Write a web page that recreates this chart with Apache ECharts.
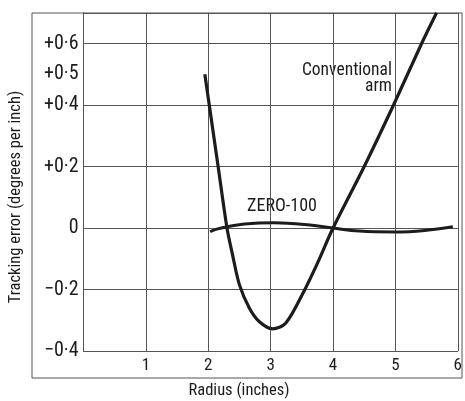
<!DOCTYPE html>
<html><head><meta charset="utf-8">
<script src="https://cdn.jsdelivr.net/npm/echarts@6/dist/echarts.min.js"></script>
<style>html,body{margin:0;padding:0;background:#fff}#c{width:465px;height:401px}</style>
</head><body><div id="c"></div>
<script>
// Data
const conventionalArm = [[1.945,0.50],[2.016,0.40],[2.158,0.20],[2.30,0.0],[2.39,-0.088],[2.50,-0.185],[2.66,-0.261],[2.82,-0.305],[3.03,-0.328],[3.24,-0.31],[3.53,-0.207],[3.76,-0.11],[4.0,0.0],[4.5,0.2],[4.97,0.4],[5.42,0.6],[5.66,0.7]];
const zero100 = [[2.03,-0.012],[2.15,-0.003],[2.31,0.004],[2.58,0.013],[3.05,0.017],[3.63,0.010],[4.0,0.0],[4.42,-0.010],[5.0,-0.013],[5.47,-0.008],[5.92,0.004]];
const yTickLabels = {'6':'+0·6','5':'+0·5','4':'+0·4','2':'+0·2','0':'0','-2':'−0·2','-4':'−0·4'};
const xTickLabels = ['1','2','3','4','5','6'];
const FONT = '"Liberation Sans Narrow","Roboto Condensed","Liberation Sans",sans-serif';
const ink = '#1c1c1c', gridc = '#555';

const chart = echarts.init(document.getElementById('c'), null, {renderer:'canvas'});
chart.setOption({
  animation:false,
  backgroundColor:'#fff',
  grid:{left:83.5,top:12.75,right:2,bottom:50,containLabel:false},
  xAxis:{type:'value',min:0,max:6,interval:1,
    axisLine:{show:true,onZero:false,lineStyle:{color:gridc,width:1}},
    axisTick:{show:false},
    splitLine:{show:true,lineStyle:{color:gridc,width:1}},
    axisLabel:{margin:6,color:ink,fontFamily:FONT,fontSize:17,
      formatter:v=>{const i=Math.round(v);return i>=1?xTickLabels[i-1]:'';}}},
  yAxis:[
    {type:'value',min:-0.4,max:0.7,interval:0.1,
      axisLine:{show:true,onZero:false,lineStyle:{color:gridc,width:1}},
      axisTick:{show:false},splitLine:{show:false},
      axisLabel:{margin:5,color:ink,fontFamily:FONT,fontSize:20,
        formatter:v=>{const k=String(Math.round(v*10));return yTickLabels[k]||'';}}},
    {type:'value',min:-0.4,max:0.7,interval:0.2,position:'left',
      axisLine:{show:false},axisTick:{show:false},axisLabel:{show:false},
      splitLine:{show:true,lineStyle:{color:gridc,width:1}}}
  ],
  series:[
    {type:'line',name:'Conventional arm',data:conventionalArm,smooth:0.3,symbol:'none',
      lineStyle:{color:ink,width:3.2},clip:true},
    {type:'line',name:'ZERO-100',data:zero100,smooth:0.4,symbol:'none',
      lineStyle:{color:ink,width:3},clip:true}
  ],
  graphic:[
    {type:'rect',shape:{x:32,y:13,width:430,height:365},style:{fill:'none',stroke:gridc,lineWidth:1},silent:true,z:-1},
    {type:'text',x:239,y:391,style:{text:'Radius (inches)',fill:ink,font:'16.5px '+FONT,textAlign:'center',textVerticalAlign:'middle'}},
    {type:'text',x:16,y:197,rotation:Math.PI/2,style:{text:'Tracking error (degrees per inch)',fill:ink,font:'16.5px '+FONT,textAlign:'center',textVerticalAlign:'middle'}},
    {type:'text',x:282,y:206,style:{text:'ZERO-100',fill:ink,font:'18px '+FONT,textAlign:'center',textVerticalAlign:'middle'}},
    {type:'text',x:392,y:71,style:{text:'Conventional',fill:ink,font:'17.5px '+FONT,textAlign:'right',textVerticalAlign:'middle'}},
    {type:'text',x:392,y:87,style:{text:'arm',fill:ink,font:'17.5px '+FONT,textAlign:'right',textVerticalAlign:'middle'}}
  ]
});
</script></body></html>
